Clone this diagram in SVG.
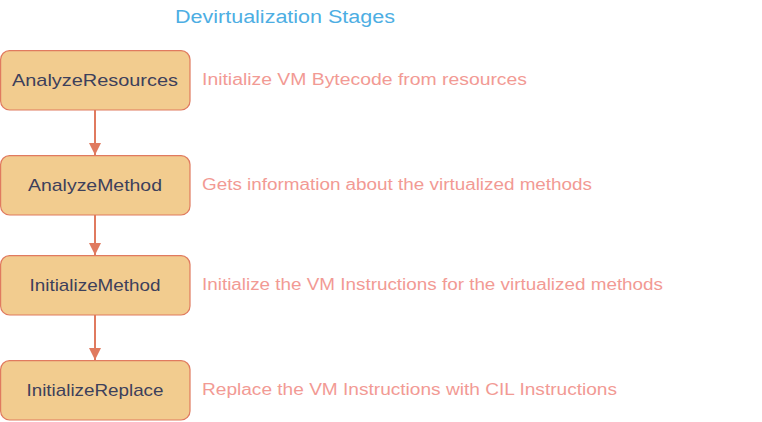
<svg xmlns="http://www.w3.org/2000/svg" width="762" height="422" viewBox="0 0 762 422">
  <style>
    .box{fill:#F2CC8F;stroke:#E07A5F;stroke-width:1.2}
    .lbl{font-family:"Liberation Sans","DejaVu Sans",sans-serif;font-size:17px;fill:#3D405B;text-anchor:middle}
    .desc{font-family:"Liberation Sans","DejaVu Sans",sans-serif;font-size:16px;fill:#F29A94}
    .title{font-family:"Liberation Sans","DejaVu Sans",sans-serif;font-size:18px;fill:#4DAEE3}
    .edge{stroke:#E07A5F;stroke-width:2;fill:none}
  </style>
  <defs>
    <marker id="arr" viewBox="0 0 12 12" refX="12" refY="6" markerWidth="12" markerHeight="12" markerUnits="userSpaceOnUse" orient="auto">
      <path d="M0,0 L12,6 L0,12 Z" fill="#E07A5F"/>
    </marker>
  </defs>
  <rect width="762" height="422" fill="#FFFFFF"/>
  <text class="title" x="175" y="23" textLength="220" lengthAdjust="spacingAndGlyphs">Devirtualization Stages</text>

  <g id="connectors">
    <line class="edge" x1="95" y1="110" x2="95" y2="155" marker-end="url(#arr)"/>
    <line class="edge" x1="95" y1="215" x2="95" y2="255" marker-end="url(#arr)"/>
    <line class="edge" x1="95" y1="315" x2="95" y2="360" marker-end="url(#arr)"/>
  </g>

  <g id="AnalyzeResources">
    <rect class="box" x="0.6" y="50.6" width="189.4" height="59.4" rx="9"/>
    <text class="lbl" x="95" y="86" textLength="166" lengthAdjust="spacingAndGlyphs">AnalyzeResources</text>
  </g>
  <g id="AnalyzeMethod">
    <rect class="box" x="0.6" y="155.6" width="189.4" height="59.4" rx="9"/>
    <text class="lbl" x="95" y="191" textLength="134" lengthAdjust="spacingAndGlyphs">AnalyzeMethod</text>
  </g>
  <g id="InitializeMethod">
    <rect class="box" x="0.6" y="255.6" width="189.4" height="59.4" rx="9"/>
    <text class="lbl" x="95" y="291" textLength="131" lengthAdjust="spacingAndGlyphs">InitializeMethod</text>
  </g>
  <g id="InitializeReplace">
    <rect class="box" x="0.6" y="360.6" width="189.4" height="59.4" rx="9"/>
    <text class="lbl" x="95" y="396" textLength="137" lengthAdjust="spacingAndGlyphs">InitializeReplace</text>
  </g>

  <g id="descriptions">
    <text class="desc" x="202" y="85" textLength="325" lengthAdjust="spacingAndGlyphs">Initialize VM Bytecode from resources</text>
    <text class="desc" x="202" y="190" textLength="390" lengthAdjust="spacingAndGlyphs">Gets information about the virtualized methods</text>
    <text class="desc" x="202" y="290" textLength="461" lengthAdjust="spacingAndGlyphs">Initialize the VM Instructions for the virtualized methods</text>
    <text class="desc" x="202" y="395" textLength="415" lengthAdjust="spacingAndGlyphs">Replace the VM Instructions with CIL Instructions</text>
  </g>
</svg>
